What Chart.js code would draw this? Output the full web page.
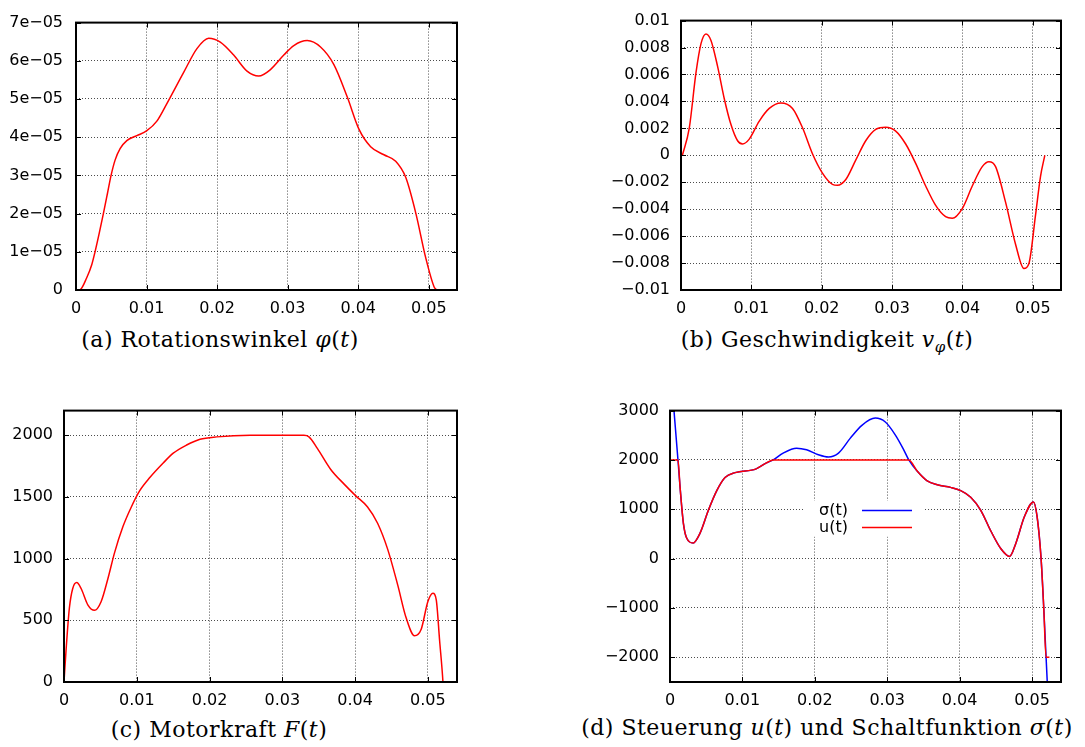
<!DOCTYPE html>
<html>
<head>
<meta charset="utf-8">
<script src="https://cdn.jsdelivr.net/npm/chart.js@4/dist/chart.umd.min.js"></script>
<style>
  body { margin: 0; background: #fff; width: 1085px; height: 747px; position: relative; overflow: hidden; }
  canvas { position: absolute; }
  .cap { position: absolute; font-family: "DejaVu Serif", serif; font-size: 22px; line-height: 26px; letter-spacing: 0.5px; text-align: center; color: #000; white-space: nowrap; }
  .cap sub { font-size: 15px; }
</style>
</head>
<body>
<canvas id="c1" width="470" height="320" style="left:0;top:0"></canvas>
<canvas id="c2" width="525" height="320" style="left:560px;top:0"></canvas>
<canvas id="c3" width="470" height="320" style="left:0;top:390px"></canvas>
<canvas id="c4" width="525" height="320" style="left:560px;top:390px"></canvas>

<div class="cap" style="left:0;top:327px;width:440px">(a) Rotationswinkel <i>φ</i>(<i>t</i>)</div>
<div class="cap" style="left:627px;top:327px;width:400px">(b) Geschwindigkeit <i>v</i><sub><i>φ</i></sub>(<i>t</i>)</div>
<div class="cap" style="left:0;top:717px;width:438px">(c) Motorkraft <i>F</i>(<i>t</i>)</div>
<div class="cap" style="left:567px;top:715px;width:520px">(d) Steuerung <i>u</i>(<i>t</i>) und Schaltfunktion <i>σ</i>(<i>t</i>)</div>

<script>
// Zeitachse (gemeinsam)
const xTicks = [0, 0.01, 0.02, 0.03, 0.04, 0.05];

// (a) Rotationswinkel phi(t)
const phiT = [0, 0.00057, 0.00152, 0.00223, 0.0027, 0.00331, 0.00388, 0.00445, 0.00497, 0.00554, 0.00625, 0.0072,
  0.00862, 0.01004, 0.01146, 0.01288, 0.01524,
  0.01714, 0.0188, 0.02045, 0.02235, 0.02424, 0.0259, 0.02756, 0.02945, 0.03087, 0.03277, 0.03466, 0.03655,
  0.03845, 0.0401, 0.04176, 0.04365, 0.04531, 0.04673, 0.04815, 0.04957, 0.05076, 0.0511];
const phiV = [0, 0.01e-5, 0.32e-5, 0.66e-5, 1.0e-5, 1.5e-5, 2.0e-5, 2.52e-5, 3.0e-5, 3.4e-5, 3.7e-5, 3.91e-5,
  4.04e-5, 4.17e-5, 4.42e-5, 4.88e-5, 5.69e-5,
  6.32e-5, 6.59e-5, 6.49e-5, 6.15e-5, 5.73e-5, 5.6e-5, 5.77e-5, 6.15e-5, 6.4e-5, 6.53e-5, 6.36e-5, 5.9e-5,
  5.05e-5, 4.21e-5, 3.75e-5, 3.54e-5, 3.37e-5, 2.95e-5, 2.02e-5, 0.84e-5, 0.08e-5, 0];
const phiTicks = [0, 1e-5, 2e-5, 3e-5, 4e-5, 5e-5, 6e-5, 7e-5];

// (b) Geschwindigkeit v_phi(t)
const velT = [0.0002, 0.00118, 0.00213, 0.00284, 0.00355, 0.00426, 0.0052, 0.00615, 0.0071, 0.00804, 0.00875, 0.0097,
  0.0111, 0.01254, 0.01419, 0.01585, 0.01727, 0.01868, 0.0201, 0.02152, 0.02223, 0.02342, 0.02483, 0.02625,
  0.02767, 0.02909, 0.03051, 0.03193, 0.03335, 0.03477, 0.03619, 0.0376, 0.03855, 0.03997, 0.04139, 0.04281,
  0.04376, 0.0447, 0.04612, 0.04754, 0.04872, 0.04943, 0.05038, 0.05109, 0.0517];
const velV = [0, 0.00204, 0.00613, 0.00829, 0.00901, 0.00853, 0.0066, 0.0042, 0.00228, 0.00108, 0.00084, 0.0012,
  0.00252, 0.00348, 0.00389, 0.00348, 0.00204, 0.00012, -0.00132, -0.00216, -0.00223, -0.0018, -0.00036, 0.00108,
  0.00192, 0.00209, 0.0018, 0.00084, -0.0006, -0.00228, -0.00372, -0.00456, -0.00468, -0.00396, -0.00228, -0.00084,
  -0.00048, -0.00084, -0.00348, -0.0066, -0.0084, -0.00805, -0.00444, -0.00156, 0];
const velTicks = [-0.01, -0.008, -0.006, -0.004, -0.002, 0, 0.002, 0.004, 0.006, 0.008, 0.01];

// (c) Motorkraft F(t)
const forceT = [0, 0.00028, 0.00074, 0.0012, 0.00175, 0.00235, 0.00327, 0.00419, 0.00511, 0.00603, 0.00695, 0.0081,
  0.00925, 0.01041, 0.01179, 0.01363, 0.01501, 0.01685, 0.01869, 0.021, 0.0256, 0.0302, 0.03297, 0.03366,
  0.03481, 0.03665, 0.03849, 0.04006, 0.04171, 0.04309, 0.04448, 0.04586, 0.04701, 0.04816, 0.04908, 0.05,
  0.05069, 0.05115, 0.05161, 0.05207, 0.0522];
const forceV = [0, 256, 600, 758, 806, 758, 626, 581, 653, 837, 1049, 1260,
  1419, 1551, 1657, 1775, 1855, 1921, 1968, 1987, 2000, 2000, 2000, 1987,
  1894, 1723, 1604, 1511, 1419, 1287, 1075, 785, 520, 375, 428, 653,
  719, 666, 336, 0, -150];
const forceTicks = [0, 500, 1000, 1500, 2000];

// (d) Steuerung u(t) und Schaltfunktion sigma(t)
const uT = [0, 0.0011, 0.00139, 0.00185, 0.0023, 0.0032, 0.00415, 0.0053, 0.00646, 0.0076, 0.009, 0.0119,
  0.01332, 0.01425, 0.02, 0.025, 0.03, 0.03298, 0.03413, 0.03552, 0.03691, 0.03876, 0.04015,
  0.04153, 0.04292, 0.04431, 0.0457, 0.0469, 0.04778, 0.04894, 0.0502, 0.0507, 0.05125, 0.05162, 0.05194, 0.0524];
const uV = [2000, 2000, 1450, 716, 417, 318, 517, 980, 1378, 1644, 1743, 1820,
  1940, 2000, 2000, 2000, 2000, 2000, 1775, 1576, 1497, 1444, 1378,
  1245, 980, 560, 200, 45, 318, 848, 1150, 850, 0, -1007, -2000, -2000];
const sigmaT = [0, 0.00055, 0.0011, 0.00139, 0.00185, 0.0023, 0.0032, 0.00415, 0.0053, 0.00646, 0.0076, 0.009,
  0.0119, 0.01332, 0.01425, 0.01563, 0.01748, 0.01887, 0.02049, 0.02188, 0.02327, 0.02488,
  0.0265, 0.02835, 0.02974, 0.03113, 0.03228, 0.03298, 0.03413, 0.03552, 0.03691, 0.03876, 0.04015, 0.04153,
  0.04292, 0.04431, 0.0457, 0.0469, 0.04778, 0.04894, 0.0502, 0.0507, 0.05125, 0.05162, 0.05194, 0.0522];
const sigmaV = [4000, 3000, 2000, 1450, 716, 417, 318, 517, 980, 1378, 1644, 1743,
  1820, 1940, 2000, 2139, 2238, 2205, 2106, 2060, 2139, 2437,
  2702, 2848, 2768, 2503, 2205, 2000, 1775, 1576, 1497, 1444, 1378, 1245,
  980, 560, 200, 45, 318, 848, 1150, 850, 0, -1007, -2000, -2800];
const ctrlTicks = [-2000, -1000, 0, 1000, 2000, 3000];

const FONT = { family: '"DejaVu Sans", sans-serif', size: 16 };
const minus = s => s.replace('-', '\u2212');

function pts(xs, ys) {
  return xs.map((x, i) => ({ x: x, y: ys[i] }));
}

function line(label, xs, ys, color, order) {
  return {
    label: label,
    data: pts(xs, ys),
    borderColor: color,
    borderWidth: 1.5,
    pointRadius: 0,
    fill: false,
    cubicInterpolationMode: 'monotone',
    order: order || 0
  };
}

// Rahmen + innenliegende Tickmarken wie bei gnuplot
const framePlugin = {
  id: 'frame',
  afterDatasetsDraw(chart) {
    const { ctx, chartArea: a, scales } = chart;
    ctx.save();
    ctx.strokeStyle = '#000';
    ctx.lineWidth = 1;
    ctx.beginPath();
    scales.x.ticks.forEach(t => {
      const px = Math.round(scales.x.getPixelForValue(t.value)) + 0.5;
      ctx.moveTo(px, a.bottom); ctx.lineTo(px, a.bottom - 5);
      ctx.moveTo(px, a.top); ctx.lineTo(px, a.top + 5);
    });
    scales.y.ticks.forEach(t => {
      const py = Math.round(scales.y.getPixelForValue(t.value)) + 0.5;
      ctx.moveTo(a.left, py); ctx.lineTo(a.left + 5, py);
      ctx.moveTo(a.right, py); ctx.lineTo(a.right - 5, py);
    });
    ctx.stroke();
    ctx.lineWidth = 2;
    ctx.strokeRect(a.left, a.top, a.right - a.left, a.bottom - a.top);
    ctx.restore();
  }
};

// Legende innerhalb der Zeichenfläche (nur Diagramm d)
const innerLegend = {
  id: 'innerLegend',
  beforeDatasetsDraw(chart, args, opts) {
    if (!opts.show) return;
    const { ctx, chartArea: a } = chart;
    const x0 = a.left + opts.dx, y0 = a.top + opts.dy;
    ctx.save();
    ctx.fillStyle = '#fff';
    ctx.fillRect(x0, y0, 120, 36);
    ctx.font = '16px "DejaVu Sans", sans-serif';
    ctx.textAlign = 'right';
    ctx.textBaseline = 'middle';
    opts.items.forEach((idx, row) => {
      const ds = chart.data.datasets[idx];
      const y = y0 + 10 + row * 17;
      ctx.fillStyle = '#000';
      ctx.fillText(ds.label, x0 + 45, y);
      ctx.strokeStyle = ds.borderColor;
      ctx.lineWidth = 1.5;
      ctx.beginPath();
      ctx.moveTo(x0 + 59, y);
      ctx.lineTo(x0 + 109, y);
      ctx.stroke();
    });
    ctx.restore();
  }
};

function makeChart(id, datasets, cfg) {
  const grid = { color: 'rgba(0,0,0,0.7)', lineWidth: 1, drawTicks: false };
  return new Chart(document.getElementById(id), {
    type: 'line',
    data: { datasets: datasets },
    plugins: [framePlugin, innerLegend],
    options: {
      responsive: false,
      animation: false,
      devicePixelRatio: 1,
      layout: { padding: { top: cfg.top, right: cfg.right, left: 0, bottom: 0 } },
      plugins: {
        legend: { display: false },
        tooltip: { enabled: false },
        innerLegend: cfg.legend || { show: false }
      },
      scales: {
        x: {
          type: 'linear',
          min: 0,
          max: 0.054,
          afterBuildTicks: s => { s.ticks = xTicks.map(v => ({ value: v })); },
          afterFit: s => { s.height = cfg.xh; },
          grid: grid,
          border: { display: false, dash: [1, 2] },
          ticks: {
            font: FONT, color: '#000', padding: 9, maxRotation: 0, autoSkip: false,
            callback: v => String(+v.toFixed(2))
          }
        },
        y: {
          type: 'linear',
          min: cfg.yMin,
          max: cfg.yMax,
          afterBuildTicks: s => { s.ticks = cfg.yTicks.map(v => ({ value: v })); },
          afterFit: s => { s.width = cfg.yw; },
          grid: grid,
          border: { display: false, dash: [1, 2] },
          ticks: { font: FONT, color: '#000', padding: cfg.ypad, autoSkip: false, callback: cfg.fmt }
        }
      }
    }
  });
}

function expFmt(v) {
  if (v === 0) return '0';
  const e = Math.floor(Math.log10(Math.abs(v)) + 1e-9);
  const m = Math.round(v / Math.pow(10, e));
  return m + 'e\u2212' + String(-e).padStart(2, '0');
}

makeChart('c1', [line('phi(t)', phiT, phiV, '#ff0000')], {
  top: 13, right: 13, xh: 30, yw: 76, ypad: 13,
  yMin: 0, yMax: 7e-5, yTicks: phiTicks, fmt: expFmt
});

makeChart('c2', [line('v(t)', velT, velV, '#ff0000')], {
  top: 13, right: 24, xh: 30, yw: 121, ypad: 11,
  yMin: -0.01, yMax: 0.01, yTicks: velTicks, fmt: v => minus(String(+v.toFixed(3)))
});

makeChart('c3', [line('F(t)', forceT, forceV, '#ff0000')], {
  top: 15, right: 13, xh: 28, yw: 64, ypad: 11,
  yMin: 0, yMax: 2200, yTicks: forceTicks, fmt: v => String(v)
});

makeChart('c4', [
  line('σ(t)', sigmaT, sigmaV, '#0000ff', 1),
  line('u(t)', uT, uV, '#ff0000', 0)
], {
  top: 15, right: 24, xh: 28, yw: 110, ypad: 11,
  yMin: -2500, yMax: 3000, yTicks: ctrlTicks, fmt: v => minus(String(v)),
  legend: { show: true, dx: 133, dy: 90, items: [0, 1] }
});
</script>
</body>
</html>
